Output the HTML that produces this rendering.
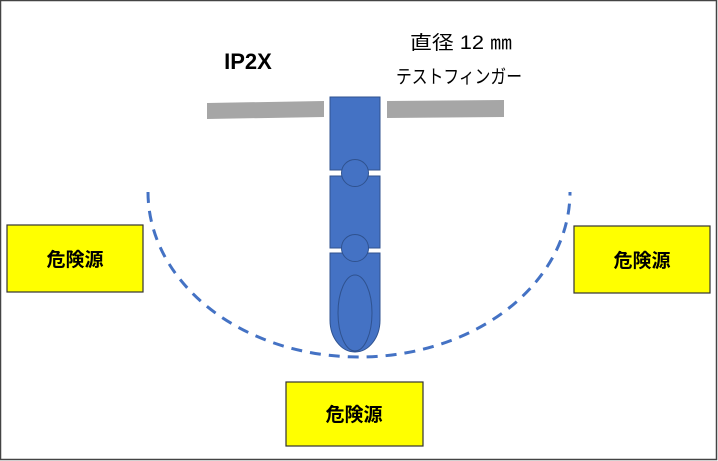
<!DOCTYPE html>
<html><head><meta charset="utf-8"><style>
html,body{margin:0;padding:0;background:#fff;}
svg{display:block;}
text{font-family:"Liberation Sans","Noto Sans CJK JP",sans-serif;}
</style></head><body>
<svg width="718" height="461" viewBox="0 0 718 461" xmlns="http://www.w3.org/2000/svg">
<rect x="0.5" y="0.5" width="716" height="459" fill="#fff" stroke="#444" stroke-width="1.5"/>
<!-- gray bars -->
<polygon points="207,103 324,101 324,117 207,119" fill="#a6a6a6"/>
<polygon points="387,101 504,100 504,117 387,118" fill="#a6a6a6"/>
<!-- dashed arc -->
<path d="M148,192 A211,165 0 0 0 570,192" fill="none" stroke="#4472c4" stroke-width="3" stroke-dasharray="11,8"/>
<!-- finger -->
<g fill="#4472c4" stroke="#2f528f" stroke-width="1">
<rect x="330" y="97" width="50" height="73"/>
<rect x="330" y="176" width="50" height="72"/>
<path d="M330,253 L380,253 L380,320 A25,32 0 0 1 330,320 Z"/>
<circle cx="355" cy="173" r="13.5"/>
<circle cx="355" cy="248" r="13.5"/>
<ellipse cx="355" cy="313" rx="17" ry="38"/>
</g>
<!-- yellow boxes -->
<g fill="#ffff00" stroke="#333" stroke-width="1.2">
<rect x="7" y="225" width="136" height="67"/>
<rect x="574" y="226" width="136" height="67"/>
<rect x="286" y="382" width="137" height="64"/>
</g>
<g font-weight="bold" font-size="19" fill="#000" text-anchor="middle">
<text x="75" y="266">危険源</text>
<text x="642" y="267">危険源</text>
<text x="354" y="421">危険源</text>
</g>
<text x="248" y="69" font-size="22" font-weight="bold" text-anchor="middle">IP2X</text>
<text x="410" y="49" font-size="19" textLength="102" lengthAdjust="spacingAndGlyphs">直径 12 ㎜</text>
<text x="396" y="83" font-size="19" textLength="126" lengthAdjust="spacingAndGlyphs">テストフィンガー</text>
</svg>
</body></html>
